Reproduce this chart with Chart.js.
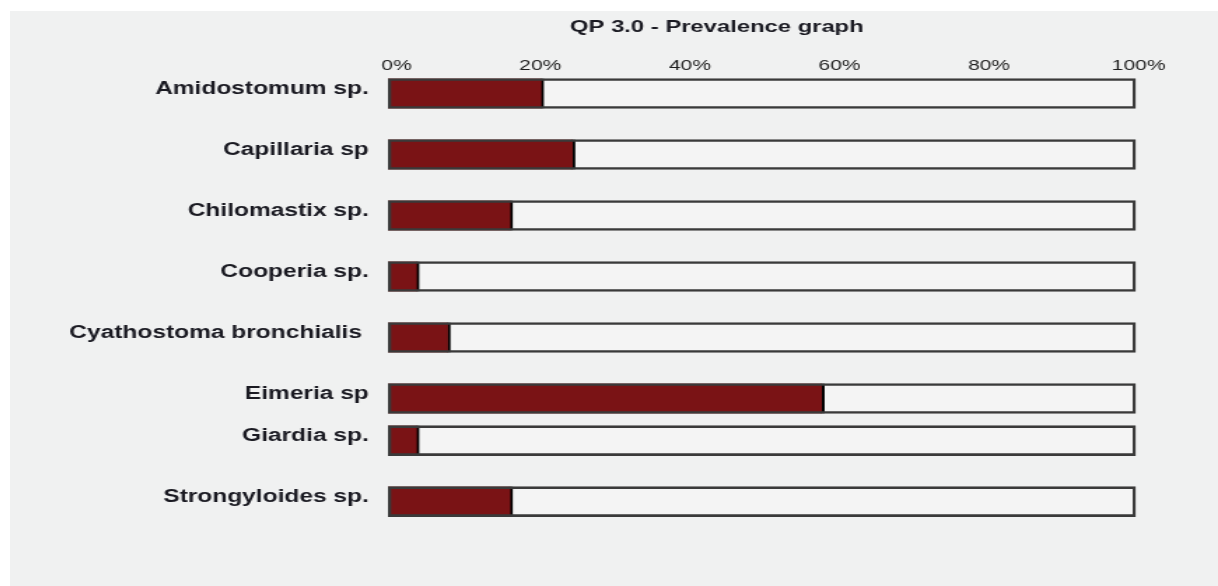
<!DOCTYPE html>
<html>
<head>
<meta charset="utf-8">
<title>QP 3.0 - Prevalence graph</title>
<script src="https://cdn.jsdelivr.net/npm/chart.js@4.4.1/dist/chart.umd.min.js"></script>
<style>
  html, body { margin: 0; padding: 0; background: #ffffff; }
  #panel { position: absolute; left: 10px; top: 11px; width: 1208px; height: 575px; background: #f0f1f1; overflow: hidden; }
  /* the original screenshot is stretched sideways, so the whole chart is too */
  #stretch { width: 863px; height: 575px; transform: scaleX(1.39977); transform-origin: 0 0; }
</style>
</head>
<body>
<div id="panel">
  <div id="stretch">
    <canvas id="prevalenceChart" width="863" height="575"></canvas>
  </div>
</div>
<script>
const chartTitle = 'QP 3.0 - Prevalence graph';

const species = [
  'Amidostomum sp.',
  'Capillaria sp',
  'Chilomastix sp.',
  'Cooperia sp.',
  'Cyathostoma bronchialis ',
  'Eimeria sp',
  'Giardia sp.',
  'Strongyloides sp.'
];

// prevalence in %
const prevalence = [20.83, 25, 16.67, 4.17, 8.33, 58.33, 4.17, 16.67];

const percentTicks = [0, 20, 40, 60, 80, 100];

// row slots on the y axis (Giardia sits closer to Eimeria)
const rowSlots = [0, 1, 2, 3, 4, 5, 5.69, 6.69];

const FONT = 'Liberation Sans, Arial, Helvetica, sans-serif';

// Title is drawn off-centre in the original, so draw it by hand
const titlePlugin = {
  id: 'qpTitle',
  afterDraw(chart) {
    const ctx = chart.ctx;
    ctx.save();
    ctx.font = 'bold 17px ' + FONT;
    ctx.fillStyle = '#1a1a22';
    ctx.textAlign = 'center';
    ctx.textBaseline = 'middle';
    ctx.fillText(chartTitle, 505, 16);
    ctx.restore();
  }
};

function points(values) {
  return values.map((v, i) => ({ x: v, y: rowSlots[i] }));
}

const full = prevalence.map(() => 100);

const ctx = document.getElementById('prevalenceChart');

const chart = new Chart(ctx, {
  type: 'bar',
  data: {
    datasets: [
      {
        label: 'outline',
        data: points(full),
        backgroundColor: 'rgba(0,0,0,0)',
        borderColor: '#3a3a3a',
        borderWidth: 2,
        borderSkipped: false,
        order: 0
      },
      {
        label: 'Prevalence',
        data: points(prevalence),
        backgroundColor: '#7a1315',
        borderColor: '#000000',
        borderWidth: { top: 0, right: 2, bottom: 0, left: 0 },
        borderSkipped: false,
        order: 1
      },
      {
        label: 'background',
        data: points(full),
        backgroundColor: '#f4f4f4',
        borderWidth: 0,
        order: 2
      }
    ]
  },
  options: {
    indexAxis: 'y',
    responsive: false,
    animation: false,
    layout: {
      padding: { top: 34.2, right: 58.7, bottom: 35, left: 0 }
    },
    datasets: {
      bar: {
        grouped: false,
        barThickness: 30
      }
    },
    plugins: {
      legend: { display: false },
      tooltip: { enabled: false },
      title: { display: false }
    },
    scales: {
      x: {
        type: 'linear',
        position: 'top',
        min: 0,
        max: 100,
        afterBuildTicks: (scale) => {
          scale.ticks = percentTicks.map(v => ({ value: v }));
        },
        afterFit: (scale) => {
          scale.height = 30;
        },
        ticks: {
          color: '#1e1e1e',
          padding: -7.8,
          labelOffset: 2,
          font: { family: FONT, size: 15 },
          callback: (value) => (value === 0 ? '  ' : '') + value + '%'
        },
        grid: { display: false },
        border: { display: false }
      },
      y: {
        type: 'linear',
        reverse: true,
        offset: false,
        min: -0.3,
        max: 7.5,
        afterBuildTicks: (scale) => {
          scale.ticks = rowSlots.map(v => ({ value: v }));
        },
        afterFit: (scale) => {
          scale.width = 270;
        },
        ticks: {
          autoSkip: false,
          color: '#1a1a22',
          padding: 5.7,
          labelOffset: -4,
          font: { family: FONT, size: 17.5, weight: 'bold' },
          callback: (value) => species[rowSlots.indexOf(value)]
        },
        grid: { display: false },
        border: { display: false }
      }
    }
  },
  plugins: [titlePlugin]
});
</script>
</body>
</html>
